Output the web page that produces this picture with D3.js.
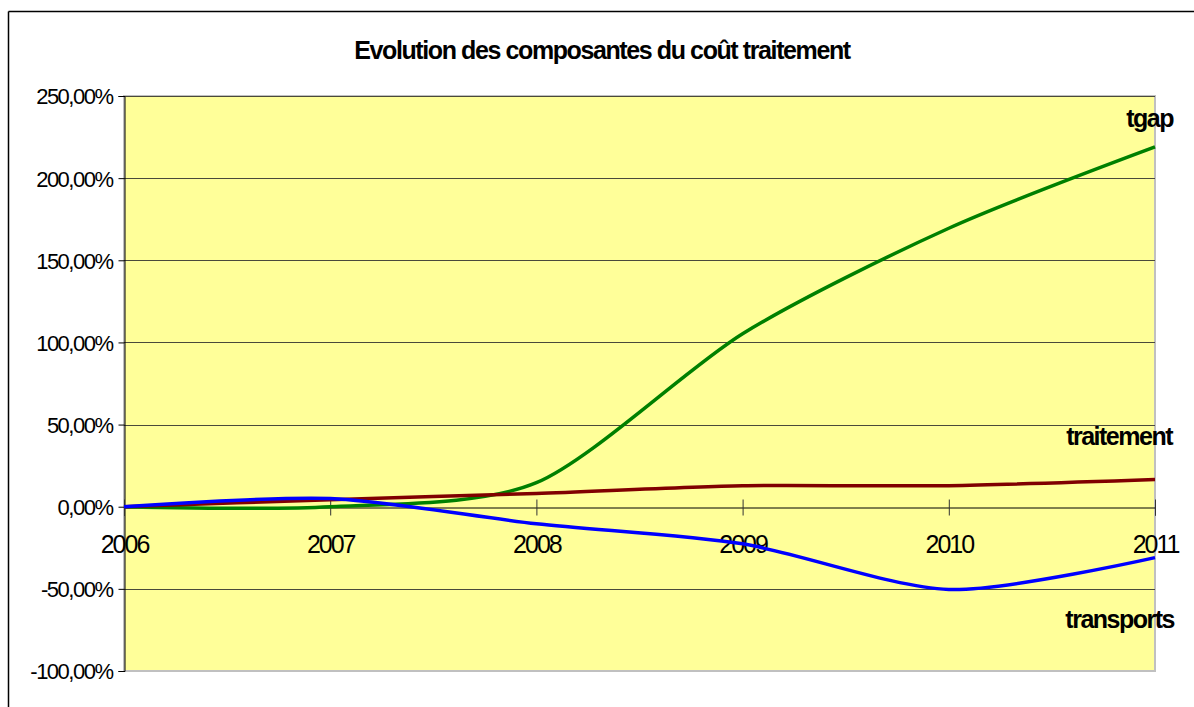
<!DOCTYPE html>
<html>
<head>
<meta charset="utf-8">
<script src="https://cdn.jsdelivr.net/npm/d3@7"></script>
<style>
  body { margin: 0; background: #fff; }
  text { font-family: Arial, "Liberation Sans", sans-serif; fill: #000; }
</style>
</head>
<body>
<svg id="chart"></svg>
<script>
var w = 1194;
var h = 707;

// data
var years = [2006, 2007, 2008, 2009, 2010, 2011];
var tgap = [0, 0, 14.6, 105.3, 169.5, 219];
var traitement = [0, 4.3, 8.1, 12.8, 12.8, 16.5];
var transports = [0, 5, -10.4, -22.6, -50.4, -31];
var yTicks = [-100, -50, 0, 50, 100, 150, 200, 250];
var title = "Evolution des composantes du coût traitement";

var series = [
  {name: "tgap", values: tgap, color: "#008000", label: [1173, 127]},
  {name: "traitement", values: traitement, color: "#800000", label: [1172, 445]},
  {name: "transports", values: transports, color: "#0000ff", label: [1174, 628]}
];

var margin = {left: 124, top: 96, right: 1155, bottom: 671};

var svg = d3.select("#chart")
  .attr("width", w)
  .attr("height", h);

// outer frame (only top and left visible)
svg.append("line").attr("x1", 8.5).attr("x2", w).attr("y1", 11.5).attr("y2", 11.5)
  .attr("stroke", "#000").attr("stroke-width", 1.5);
svg.append("line").attr("x1", 8.5).attr("x2", 8.5).attr("y1", 11.5).attr("y2", h)
  .attr("stroke", "#000").attr("stroke-width", 1.5);

var x = d3.scaleLinear().domain([2006, 2011]).range([margin.left, margin.right]);
var y = d3.scaleLinear().domain([-100, 250]).range([margin.bottom, margin.top]);

// plot area
svg.append("rect")
  .attr("x", margin.left).attr("y", margin.top)
  .attr("width", margin.right - margin.left)
  .attr("height", margin.bottom - margin.top)
  .attr("fill", "#ffff99")
  .attr("stroke", "#c0c0c0").attr("stroke-width", 2);

// gridlines
svg.selectAll(".grid")
  .data(yTicks.filter(function(d) { return d != 0 && d != -100; }))
  .enter().append("line")
  .attr("class", "grid")
  .attr("x1", margin.left).attr("x2", margin.right)
  .attr("y1", function(d) { return Math.round(y(d)) + 0.5; })
  .attr("y2", function(d) { return Math.round(y(d)) + 0.5; })
  .attr("stroke", "#4a4a3a").attr("stroke-width", 1);

// y axis
var yAxis = d3.axisLeft(y)
  .tickValues(yTicks)
  .tickSize(6)
  .tickPadding(6)
  .tickFormat(function(d) { return d.toFixed(2).replace(".", ",") + "%"; });

var gy = svg.append("g")
  .attr("transform", "translate(" + (margin.left + 0.5) + ",0)")
  .call(yAxis);
gy.select(".domain").attr("stroke", "#000");
gy.selectAll("text")
  .style("font-size", "22px")
  .style("letter-spacing", "-1.5px")
  .attr("dy", "0.36em");

// x axis on zero line
var xAxis = d3.axisBottom(x)
  .tickValues(years)
  .tickSize(8)
  .tickPadding(20)
  .tickFormat(d3.format("d"));

var gx = svg.append("g")
  .attr("transform", "translate(0," + (Math.round(y(0)) + 0.5) + ")")
  .call(xAxis);
gx.select(".domain").attr("stroke", "#000");
gx.selectAll(".tick line").attr("y1", -8).attr("stroke", "#333");
gx.selectAll("text")
  .style("font-size", "25px")
  .style("letter-spacing", "-2px");

// lines
var line = d3.line()
  .x(function(d, i) { return x(years[i]); })
  .y(function(d) { return y(d); })
  .curve(d3.curveCardinal.tension(0.2));

svg.selectAll(".serie")
  .data(series)
  .enter().append("path")
  .attr("class", "serie")
  .attr("d", function(d) { return line(d.values); })
  .attr("fill", "none")
  .attr("stroke", function(d) { return d.color; })
  .attr("stroke-width", 3.5);

// series labels
svg.selectAll(".lbl")
  .data(series)
  .enter().append("text")
  .attr("class", "lbl")
  .attr("x", function(d) { return d.label[0]; })
  .attr("y", function(d) { return d.label[1]; })
  .attr("text-anchor", "end")
  .style("font-size", "25px")
  .style("font-weight", "bold")
  .style("letter-spacing", "-1.5px")
  .text(function(d) { return d.name; });

// title
svg.append("text")
  .attr("x", 602)
  .attr("y", 59)
  .attr("text-anchor", "middle")
  .style("font-size", "25px")
  .style("font-weight", "bold")
  .style("letter-spacing", "-1.4px")
  .text(title);
</script>
</body>
</html>
